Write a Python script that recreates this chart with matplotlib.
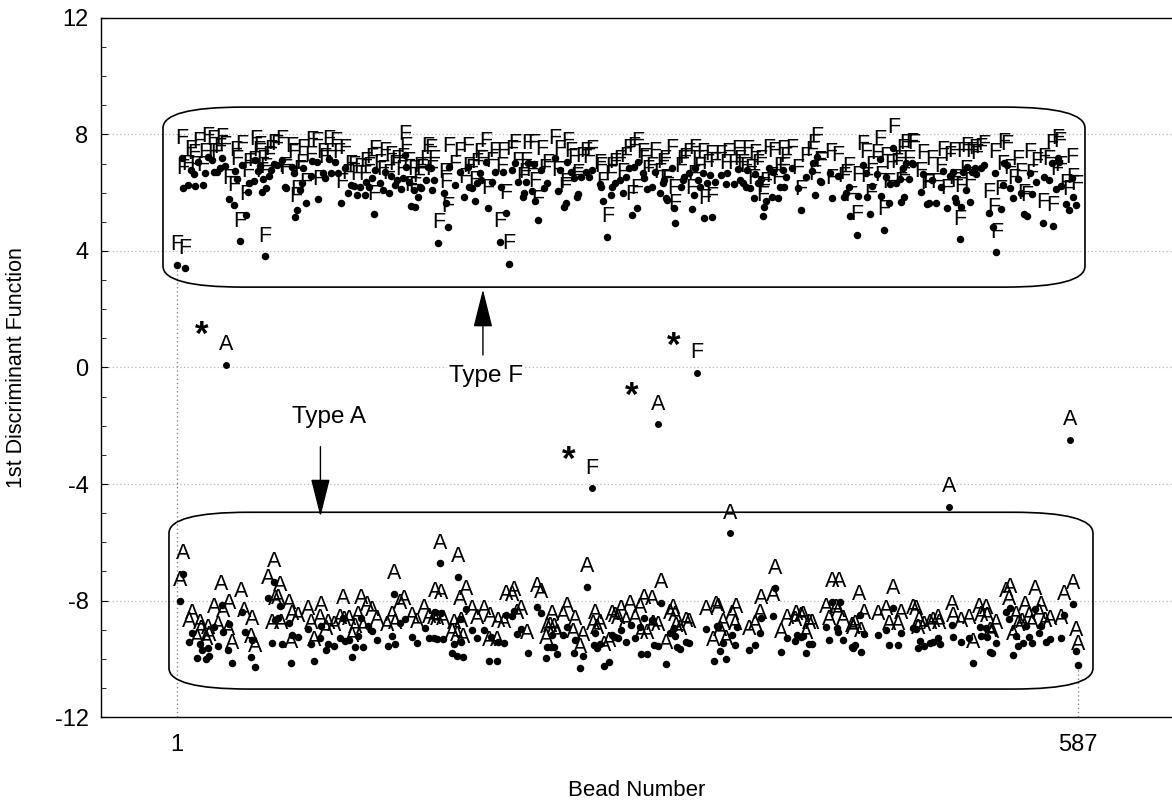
import matplotlib.pyplot as plt
from matplotlib.patches import FancyBboxPatch

plt.rcParams["font.family"] = ["Liberation Sans", "DejaVu Sans"]
plt.rcParams["axes.unicode_minus"] = False

# Type F beads (upper cluster): bead number and 1st discriminant score
f_bead = [1, 6, 4, 5, 8, 10, 12, 13, 15, 18, 19, 21, 24, 25, 27, 29, 30, 32, 35, 38,
          39, 40, 42, 43, 46, 47, 48, 51, 52, 54, 55, 56, 57, 58, 59, 61, 62, 64, 66, 69,
          71, 72, 76, 77, 78, 79, 81, 82, 83, 85, 88, 89, 92, 93, 96, 97, 100, 101, 104, 106,
          108, 110, 112, 114, 116, 118, 120, 123, 124,
          126, 129, 128, 130, 133, 135, 136, 139, 140, 143, 144, 147, 148, 150, 149, 152, 153, 156, 155, 158,
          159, 160, 163, 164, 166, 167, 168, 171, 175, 177, 176, 178, 182, 185, 188, 191, 190, 193, 195, 196,
          198, 199, 202, 203, 206, 208, 211, 212, 213, 215, 217, 219, 221, 223, 226, 227, 228, 229, 232, 234,
          233, 236, 238, 240, 242, 247, 249, 250, 253, 254, 255, 257, 259, 261, 262, 264, 267, 269, 271, 276,
          277, 278, 281, 283, 284, 286, 289, 291, 293, 295,
          297, 298, 300, 301, 304, 305, 307, 310, 312, 315, 317, 318, 319, 320, 323, 324, 325, 329, 330, 331,
          334, 336, 337, 338, 340, 341, 343, 344, 346, 348, 349, 351, 355, 358, 359, 363, 366, 367, 369, 371,
          372, 374, 376, 377, 379, 381, 382, 383, 384, 386, 388, 389, 392, 393, 395, 396, 397, 401, 405, 407,
          410, 414, 415, 416, 417, 419, 420, 426, 427, 431, 435, 436, 438, 439, 443, 444, 447, 449, 450, 452,
          453, 456, 458, 459, 461, 462,
          464, 465, 467, 469, 472, 471, 473, 474, 475, 477, 479, 480, 485, 486, 489, 490, 492, 495, 498, 499,
          502, 504, 506, 507, 508, 510, 511, 512, 514, 515, 517, 518, 520, 521, 524, 526, 529, 532, 533, 534,
          537, 538, 539, 541, 543, 545, 548, 550, 552, 554, 556, 557, 560, 564, 565, 568, 571, 570, 573, 574,
          575, 576, 579, 581, 583, 584, 586]
f_val = [3.53, 3.40, 7.18, 6.15, 6.27, 6.78, 6.64, 6.23, 7.05, 6.25, 6.67, 7.22, 7.13, 6.70, 6.70, 6.86, 7.20, 6.92, 5.80, 5.57,
         6.76, 6.46, 4.33, 6.95, 5.25, 6.04, 6.35, 6.40, 7.12, 6.76, 6.92, 6.04, 6.46, 3.82, 6.16, 6.58, 6.78, 7.00, 6.95, 7.12,
         6.20, 6.15, 6.90, 6.69, 5.16, 5.41, 6.10, 6.32, 6.84, 5.64, 6.58, 7.10, 7.06, 5.77, 6.67, 6.50, 7.15, 6.67, 7.06, 6.69,
         5.64, 6.84, 5.98, 6.28, 6.23, 5.92, 6.18, 5.92, 6.37,
         6.19, 5.26, 6.52, 6.78, 6.32, 6.09, 6.72, 5.98, 6.58, 6.27, 6.44, 6.12, 6.50, 6.90, 7.30, 6.38, 5.55, 5.52, 6.09, 5.87,
         6.21, 6.15, 6.44, 6.90, 6.84, 6.09, 6.44, 4.29, 6.00, 4.84, 5.64, 6.90, 6.27, 6.72, 5.84, 6.19, 6.90, 6.15, 5.72, 6.35,
         6.69, 6.44, 7.06, 5.46, 6.38, 6.72, 4.32, 6.19, 6.72, 5.29, 3.55, 6.78, 7.01, 6.38, 5.87, 6.00, 6.38, 7.01, 6.07, 5.70,
         7.00, 5.06, 6.78, 6.15, 6.32, 7.18, 6.07, 6.78, 5.52, 5.64, 7.07, 6.72, 6.50, 5.87, 5.96, 6.55, 6.72, 6.53, 6.78, 6.30,
         6.21, 5.70, 4.49, 5.92, 6.19, 6.35, 6.44, 6.00, 6.55, 6.84,
         5.24, 6.90, 5.46, 7.07, 6.69, 6.50, 6.12, 6.19, 6.72, 6.00, 6.35, 6.44, 5.81, 5.75, 6.84, 5.46, 4.95, 6.19, 6.44, 6.53,
         6.69, 5.44, 5.92, 6.84, 6.44, 6.19, 6.69, 5.12, 6.32, 6.61, 5.18, 6.38, 6.61, 6.30, 6.69, 6.30, 6.80, 6.44, 6.32, 6.21,
         6.78, 6.15, 5.81, 6.64, 6.32, 6.46, 5.20, 5.52, 5.70, 6.84, 5.87, 6.72, 5.81, 6.21, 6.78, 6.21, 6.55, 6.84, 6.15, 5.41,
         6.55, 6.76, 7.01, 5.92, 7.24, 6.41, 6.38, 6.67, 5.81, 6.58, 5.87, 5.98, 6.19, 5.20, 4.55, 5.90, 6.95, 6.67, 5.87, 5.27,
         6.23, 6.64, 7.15, 5.89, 4.72, 6.55,
         5.64, 6.30, 7.53, 6.35, 5.69, 6.46, 6.84, 5.87, 7.01, 6.46, 7.03, 6.99, 6.04, 6.64, 5.61, 5.64, 6.44, 5.66, 6.19, 6.76,
         5.46, 6.58, 6.72, 5.81, 5.69, 4.40, 5.52, 6.72, 6.09, 6.90, 5.69, 6.72, 6.84, 6.64, 6.85, 6.95, 5.32, 4.81, 6.69, 3.95,
         5.43, 6.27, 7.03, 6.95, 6.15, 5.81, 6.46, 6.00, 5.27, 5.20, 6.69, 5.96, 6.38, 4.97, 6.53, 6.44, 4.86, 7.01, 6.12, 7.18,
         7.07, 6.23, 5.61, 5.41, 6.50, 5.84, 5.58]

# Type A beads (lower cluster)
a_bead = [5, 3, 9, 11, 14, 16, 17, 20, 21, 22, 25, 28, 30, 31, 34, 35, 37, 43, 45, 49,
          50, 52, 60, 63, 64, 65, 67, 68, 69, 74, 75, 76, 80, 86, 88, 90, 94, 95, 98, 99,
          103, 107, 109, 110, 113, 115, 117, 119, 121, 122, 125, 128,
          131, 138, 141, 142, 143, 146, 149, 154, 157, 162, 165, 168, 169, 170, 172, 173, 174, 180,
          181, 183, 184, 185, 186, 187, 189, 193, 196, 201, 204, 205, 209, 210, 214, 215, 219, 220, 222, 225,
          229, 235, 238, 241, 242, 244, 245, 246, 248, 252, 255, 259, 260, 263, 265, 268, 272, 273, 274, 276,
          279, 282, 284, 286, 288, 290, 293,
          296, 299, 302, 303, 305, 307, 310, 311, 314, 316, 319, 322, 324, 325, 326, 328, 332, 334, 345, 350,
          352, 353, 354, 356, 358, 362, 364, 365, 373, 377, 380, 381, 389, 390, 394, 398, 403, 404, 407, 408,
          410, 412, 414, 423, 425, 427, 430, 431, 432, 434, 440, 441, 442, 445, 446, 448, 457, 462, 464,
          467, 470, 472, 480, 482, 483, 484, 487, 491, 493, 496, 497, 505, 506, 511, 516, 519, 523, 524, 527,
          528, 530, 531, 534, 540, 542, 543, 545, 547, 548, 551, 553, 555, 557, 559, 562, 563, 566, 569, 576,
          578, 584, 586, 587]
a_val = [-7.09, -8.02, -9.41, -9.13, -9.99, -9.49, -9.70, -10.02, -9.64, -9.91, -8.92, -9.56, -8.15, -9.07, -9.70, -8.81, -10.16, -8.38, -9.07, -9.95,
         -9.36, -10.27, -7.93, -9.47, -7.35, -8.67, -8.61, -8.19, -9.49, -8.78, -10.13, -9.18, -9.26, -8.99, -9.49, -10.07, -9.30, -8.88, -9.70, -9.49,
         -9.56, -9.30, -8.61, -9.38, -9.36, -9.93, -9.61, -9.22, -8.61, -9.61, -8.88, -9.05,
         -9.36, -9.56, -9.22, -7.78, -9.50, -8.78, -8.65, -9.26, -9.45, -8.96, -9.28, -9.30, -8.38, -9.33, -6.72, -8.44, -9.33, -9.79,
         -9.49, -9.91, -7.20, -8.65, -9.41, -9.95, -8.30, -9.01, -9.30, -9.01, -10.07, -9.26, -10.07, -9.41, -9.45, -8.50, -8.53, -8.35, -9.15, -8.99,
         -9.81, -8.21, -8.42, -9.99, -9.61, -9.59, -9.18, -9.61, -9.84, -9.20, -8.90, -9.79, -9.36, -10.30, -9.91, -7.53, -9.53, -9.13, -9.64, -9.49,
         -10.25, -10.10, -9.18, -9.26, -9.30, -9.01, -9.41,
         -8.84, -9.30, -8.92, -9.84, -8.61, -9.84, -8.67, -9.53, -9.56, -8.07, -10.18, -9.13, -8.96, -9.22, -9.59, -9.68, -9.41, -9.45, -8.99, -10.07,
         -8.88, -8.92, -9.72, -9.45, -10.02, -9.18, -9.53, -8.92, -9.70, -9.53, -9.13, -8.61, -8.53, -7.58, -9.78, -9.30, -9.38, -9.18, -9.26, -9.22,
         -9.81, -9.49, -9.49, -8.92, -9.36, -8.04, -8.96, -9.07, -8.04, -9.36, -9.59, -9.64, -9.53, -8.50, -9.76, -9.15, -9.18, -9.01, -9.53,
         -8.27, -9.53, -9.13, -8.96, -8.99, -9.64, -9.38, -9.56, -9.47, -9.41, -9.30, -9.49, -8.84, -9.26, -9.41, -9.30, -10.13, -8.92, -9.22, -8.96,
         -9.26, -9.76, -9.79, -9.47, -8.38, -8.65, -8.24, -9.87, -9.22, -9.56, -9.45, -8.88, -9.26, -9.47, -8.30, -9.13, -8.88, -9.41, -9.33, -9.30,
         -8.50, -8.12, -9.72, -10.21]

# beads lying between the two groups, with their true type
odd_bead = [33, 271, 314, 339, 361, 503, 582]
odd_val = [0.10, -4.15, -1.95, -0.18, -5.69, -4.79, -2.49]
odd_type = ["A", "F", "A", "F", "A", "A", "A"]

# misclassified beads are flagged with a star
star_bead = [17, 256, 297, 324]
star_val = [1.09, -3.18, -1.00, 0.71]

fig = plt.figure(figsize=(11.72, 8.06), dpi=100)
ax = fig.add_axes([0.0862, 0.1104, 0.9138, 0.8673])
ax.set_xlim(-48.4, 648.2)
ax.set_ylim(-12, 12)

for g in [-8, -4, 0, 4, 8]:
    ax.axhline(g, color="#b8b8b8", lw=0.9, ls=(0, (1, 2)), zorder=0)

# drop lines to the first and last bead
ax.vlines([f_bead[0]], -12, f_val[0], color="#888888", lw=1, ls=(0, (1, 2)), zorder=0)
ax.vlines([a_bead[-1]], -12, a_val[-1], color="#888888", lw=1, ls=(0, (1, 2)), zorder=0)

# rounded group outlines
rx = 52
for x0, x1, y0, y1 in [(-8.1, 591.6, 2.76, 8.94), (-4.2, 596.8, -11.04, -4.97)]:
    box = FancyBboxPatch((x0, y0), x1 - x0, y1 - y0,
                         boxstyle="round,pad=0,rounding_size=%g" % rx,
                         mutation_aspect=0.72 / rx, fc="none", ec="black", lw=1.2, zorder=1)
    ax.add_patch(box)

lab_kw = dict(textcoords="offset points", xytext=(0, 10.6), ha="center",
              va="baseline", fontsize=15.5, zorder=3)
for b, v in zip(f_bead, f_val):
    ax.annotate("F", (b, v), **lab_kw)
for b, v in zip(a_bead, a_val):
    ax.annotate("A", (b, v), **lab_kw)
for b, v, t in zip(odd_bead, odd_val, odd_type):
    ax.annotate(t, (b, v), **lab_kw)

ax.plot(f_bead, f_val, "o", color="black", ms=4.4, ls="none", zorder=4)
ax.plot(a_bead, a_val, "o", color="black", ms=4.4, ls="none", zorder=4)
ax.plot(odd_bead, odd_val, "o", color="black", ms=4.0, ls="none", zorder=4)

for b, v in zip(star_bead, star_val):
    ax.text(b, v, "*", fontsize=25, fontweight="bold", ha="center", va="center", zorder=5)

# group arrows
arrow = dict(arrowstyle="-|>,head_length=1.6,head_width=0.4", color="black",
             lw=1.0, mutation_scale=15, shrinkA=0, shrinkB=0)
ax.annotate("", xy=(200, 2.68), xytext=(200, 0.43), arrowprops=arrow, zorder=5)
ax.annotate("", xy=(94.3, -5.12), xytext=(94.3, -2.72), arrowprops=arrow, zorder=5)
ax.text(202, -0.3, "Type F", fontsize=17.5, ha="center", va="center", zorder=5,
        bbox=dict(fc="white", ec="none", pad=1))
ax.text(100, -1.7, "Type A", fontsize=17.5, ha="center", va="center", zorder=5)

ax.set_yticks([-12, -8, -4, 0, 4, 8, 12])
ax.set_yticks(range(-12, 13), minor=True)
ax.set_xticks([1, 587])
ax.tick_params(axis="y", which="major", direction="in", length=5, labelsize=17, pad=9)
ax.tick_params(axis="y", which="minor", direction="in", length=3.5)
ax.tick_params(axis="x", length=0, labelsize=17, pad=12)
ax.spines["right"].set_visible(False)
for s in ["left", "top", "bottom"]:
    ax.spines[s].set_linewidth(1.0)

fig.text(637 / 1172, 1 - 790 / 806, "Bead Number", fontsize=16, ha="center", va="center")
fig.text(17 / 1172, 1 - 368 / 806, "1st Discriminant Function", fontsize=15.5,
         rotation=90, ha="center", va="center")

fig.savefig("out.png", dpi=100)
